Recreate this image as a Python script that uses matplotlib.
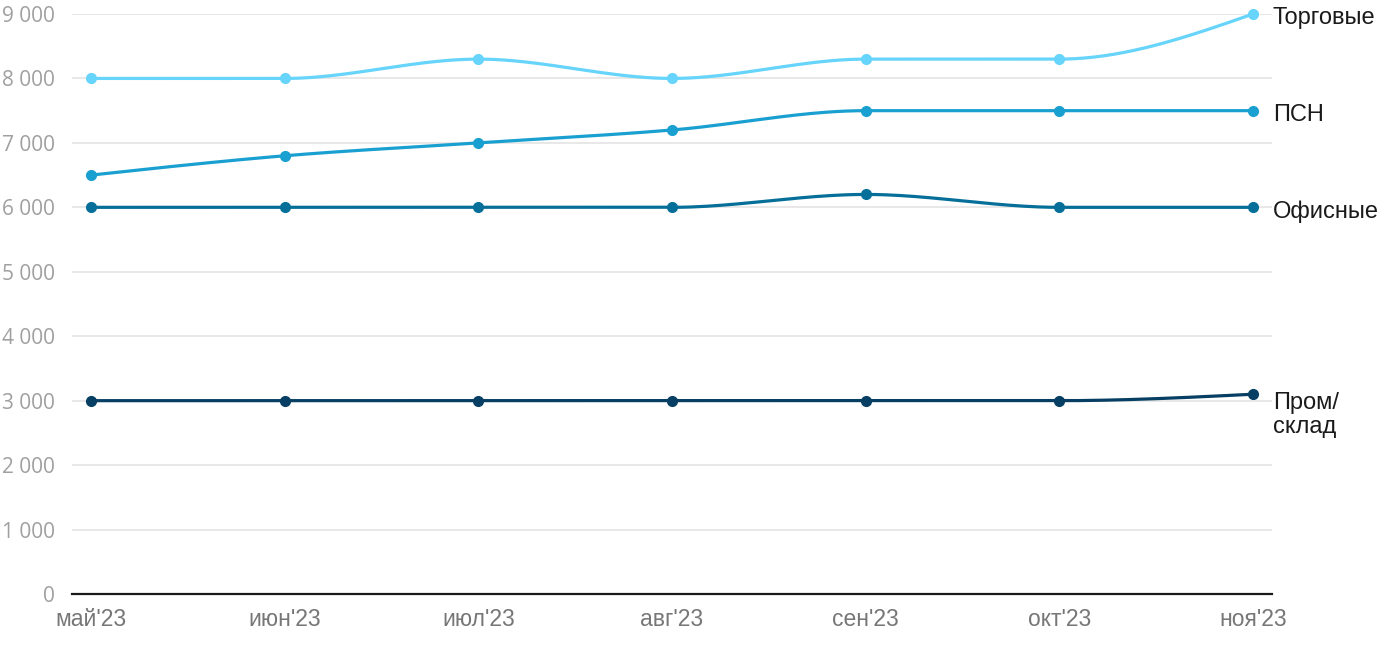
import numpy as np
import matplotlib
matplotlib.use("Agg")
import matplotlib.pyplot as plt

# --- dados ---
months = ["май'23", "июн'23", "июл'23", "авг'23", "сен'23", "окт'23", "ноя'23"]
torgovye = [8000, 8000, 8300, 8000, 8300, 8300, 9000]
psn = [6500, 6800, 7000, 7200, 7500, 7500, 7500]
ofisnye = [6000, 6000, 6000, 6000, 6200, 6000, 6000]
prom = [3000, 3000, 3000, 3000, 3000, 3000, 3100]

series_names = ["Торговые", "ПСН", "Офисные", "Пром/\nсклад"]
series_values = [torgovye, psn, ofisnye, prom]
colors = ["#66d4fb", "#1aa0d0", "#066f99", "#063f63"]
yticks = [0, 1000, 2000, 3000, 4000, 5000, 6000, 7000, 8000, 9000]


def monotone_curve(x, y, n=40):
    # interpolacao monotona (tipo d3 curveMonotoneX)
    x = np.asarray(x, float)
    y = np.asarray(y, float)
    h = np.diff(x)
    s = np.diff(y) / h
    t = np.zeros(len(x))
    for i in range(1, len(x) - 1):
        p = (s[i - 1] * h[i] + s[i] * h[i - 1]) / (h[i - 1] + h[i])
        t[i] = (np.sign(s[i - 1]) + np.sign(s[i])) * min(abs(s[i - 1]), abs(s[i]), 0.5 * abs(p))
    t[0] = (3 * s[0] - t[1]) / 2
    t[-1] = (3 * s[-1] - t[-2]) / 2
    xs, ys = [], []
    for i in range(len(x) - 1):
        dx = h[i] / 3
        p0 = (x[i], y[i])
        p1 = (x[i] + dx, y[i] + dx * t[i])
        p2 = (x[i + 1] - dx, y[i + 1] - dx * t[i + 1])
        p3 = (x[i + 1], y[i + 1])
        u = np.linspace(0, 1, n)
        bx = (1 - u) ** 3 * p0[0] + 3 * (1 - u) ** 2 * u * p1[0] + 3 * (1 - u) * u ** 2 * p2[0] + u ** 3 * p3[0]
        by = (1 - u) ** 3 * p0[1] + 3 * (1 - u) ** 2 * u * p1[1] + 3 * (1 - u) * u ** 2 * p2[1] + u ** 3 * p3[1]
        xs.extend(bx)
        ys.extend(by)
    return np.array(xs), np.array(ys)


fig = plt.figure(figsize=(14, 6.5), dpi=100)
ax = fig.add_axes([72 / 1400, 56 / 650, 1200 / 1400, 580 / 650])

xpos = np.arange(len(months))
for name, vals, c in zip(series_names, series_values, colors):
    cx, cy = monotone_curve(xpos, vals)
    ax.plot(cx, cy, color=c, lw=2.3, clip_on=False, zorder=3, solid_capstyle="round")
    ax.plot(xpos, vals, "o", color=c, ms=7, clip_on=False, zorder=4)
    ax.annotate(name, xy=(1, vals[-1]), xycoords=("axes fraction", "data"),
                xytext=(0.5, -3 if "\n" not in name else -15), textcoords="offset points",
                ha="left", va="center", fontsize=17, family="Liberation Sans", color="#1a1a1a",
                linespacing=1.1)

ax.set_xlim(-0.098, 6.098)
ax.set_ylim(0, 9000)
ax.set_yticks(yticks)
ax.set_yticklabels([f"{v:,}".replace(",", " ") if v else "0" for v in yticks],
                   fontsize=15, color="#a0a0a0", family="Open Sans")
ax.set_xticks(xpos)
ax.set_xticklabels(months, fontsize=16.5, color="#777777", family="Liberation Sans")
ax.tick_params(axis="y", length=0, pad=12)
ax.tick_params(axis="x", length=0, pad=10)

ax.grid(axis="y", color="#e6e6e6", lw=1.3)
ax.set_axisbelow(True)
for sp in ["top", "right", "left"]:
    ax.spines[sp].set_visible(False)
ax.spines["bottom"].set_color("#1a1a1a")
ax.spines["bottom"].set_linewidth(1.6)

fig.savefig("out.png", dpi=100)
